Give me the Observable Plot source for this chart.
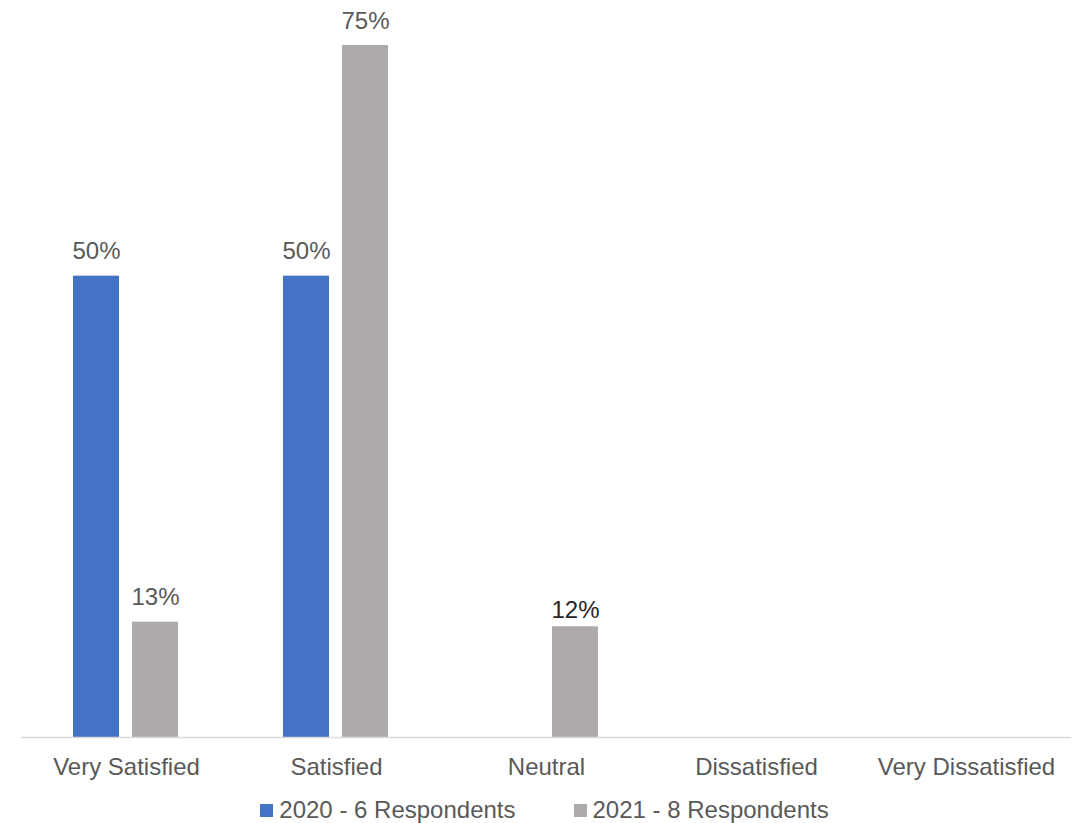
<!DOCTYPE html>
<html>
<head>
<meta charset="utf-8">
<script src="https://cdn.jsdelivr.net/npm/d3@7"></script>
<script src="https://cdn.jsdelivr.net/npm/@observablehq/plot@0.6"></script>
<style>
  body { margin: 0; background: #fff; font-family: "Liberation Sans", Arial, sans-serif; }
  #legend { display: flex; justify-content: center; gap: 58px; font-size: 24px; color: #595959; height: 40px; align-items: center; }
  #legend span.item { display: flex; align-items: center; }
  #legend span.sw { width: 13px; height: 13px; display: inline-block; margin-right: 6px; }
</style>
</head>
<body>
<div id="chart"></div>
<div id="legend"></div>
<script>
const categories = ["Very Satisfied", "Satisfied", "Neutral", "Dissatisfied", "Very Dissatisfied"];
const seriesNames = ["2020 - 6 Respondents", "2021 - 8 Respondents"];
const values2020 = [50, 50, 0, 0, 0];
const values2021 = [12.5, 75, 12, 0, 0];
const colors = ["#4472C4", "#AEAAAA"];

const data = [];
categories.forEach((c, i) => {
  data.push({category: c, series: seriesNames[0], value: values2020[i]});
  data.push({category: c, series: seriesNames[1], value: values2021[i]});
});
const labeled = data.filter(d => d.value > 0 && d.category !== "Neutral");
const labeledNeutral = data.filter(d => d.value > 0 && d.category === "Neutral");
const fmt = d => Math.round(d.value) + "%";

const chart = Plot.plot({
  width: 1089,
  height: 790,
  marginLeft: 21,
  marginRight: 18,
  marginTop: 45,
  marginBottom: 53,
  style: {fontFamily: '"Liberation Sans", Arial, sans-serif', background: "#fff"},
  fx: {domain: categories, padding: 0, label: null},
  x: {domain: seriesNames, paddingInner: 0.217, paddingOuter: 0.867, axis: null},
  y: {domain: [0, 75], axis: null, nice: false},
  color: {domain: seriesNames, range: colors},
  marks: [
    Plot.barY(data, {fx: "category", x: "series", y: "value", fill: "series"}),
    Plot.ruleY([0], {stroke: "#D9D9D9", strokeWidth: 1.5}),
    Plot.text(labeled, {
      fx: "category", x: "series", y: "value", text: fmt,
      lineAnchor: "bottom", dy: -17, fontSize: 24, fill: "#595959"
    }),
    Plot.text(labeledNeutral, {
      fx: "category", x: "series", y: "value", text: fmt,
      lineAnchor: "bottom", dy: -9, fontSize: 24, fill: "#262626"
    }),
    Plot.axisFx({anchor: "bottom", tickSize: 0, tickPadding: 20, fontSize: 24, fill: "#595959", label: null})
  ]
});
document.getElementById("chart").appendChild(chart);

const legend = document.getElementById("legend");
seriesNames.forEach((s, i) => {
  const item = document.createElement("span");
  item.className = "item";
  const sw = document.createElement("span");
  sw.className = "sw";
  sw.style.background = colors[i];
  item.appendChild(sw);
  item.appendChild(document.createTextNode(s));
  legend.appendChild(item);
});
</script>
</body>
</html>
